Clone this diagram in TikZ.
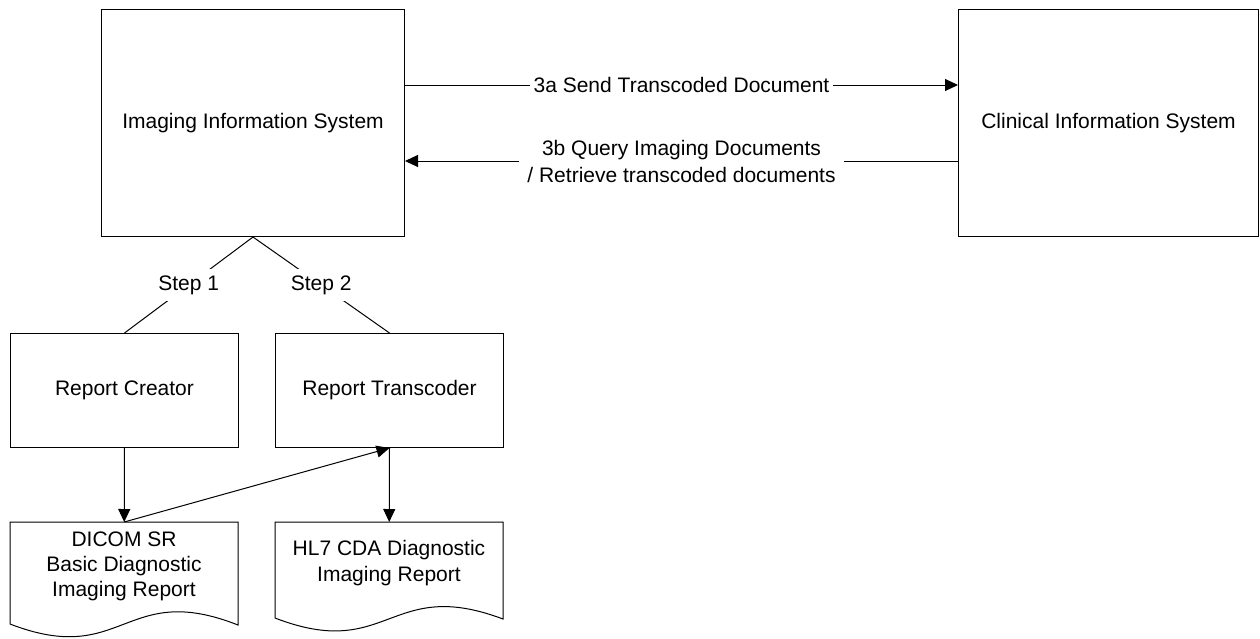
\documentclass[tikz,border=0pt]{standalone}
\usepackage{fontspec}
\setmainfont{Liberation Sans}
\usetikzlibrary{arrows.meta}
\tikzset{
  every node/.style={font=\fontsize{21}{26}\selectfont},
  sysbox/.style={draw=black, line width=1pt, inner sep=0pt, anchor=north west, align=center},
  docarea/.style={inner sep=0pt, anchor=north west},
  doctext/.style={align=center, inner sep=0pt},
  arr/.style={line width=1pt, -{Triangle[length=13pt,width=12pt]}},
  conn/.style={line width=1pt},
  lbl/.style={fill=white, inner xsep=4pt, inner ysep=6pt, align=center},
  docshape/.style={draw=black, line width=1pt}
}
\begin{document}
\begin{tikzpicture}[x=1pt,y=-1pt]
\useasboundingbox (0,0) rectangle (1260,638);
% systems
\node[sysbox, minimum width=303pt, minimum height=227pt] (iis) at (101,9) {Imaging Information System};
\node[sysbox, minimum width=300pt, minimum height=227pt] (cis) at (958,9) {Clinical Information System};
\node[sysbox, minimum width=228pt, minimum height=114pt] (creator) at (10,333) {Report Creator};
\node[sysbox, minimum width=228pt, minimum height=114pt] (transcoder) at (275,333) {Report Transcoder};
% documents
\node[docarea, minimum width=228pt, minimum height=102pt] (dicom) at (10,522) {};
\node[docarea, minimum width=228pt, minimum height=96pt] (hl7) at (275,522) {};
\draw[docshape] (10,624) -- (10,522) -- (238,522) -- (238,625)
  .. controls (124,580) and (124,668) .. (10,624) -- cycle;
\draw[docshape] (275,618) -- (275,522) -- (503,522) -- (503,619)
  .. controls (389,576) and (389,662) .. (275,618) -- cycle;
\node[doctext, font=\fontsize{21}{25}\selectfont] (dicomtxt) at (124,566) {DICOM SR\\Basic Diagnostic\\Imaging Report};
\node[doctext, font=\fontsize{21}{26}\selectfont] (hl7txt) at (389,563) {HL7 CDA Diagnostic\\Imaging Report};
% helper coordinates for horizontal connectors
\coordinate (ya) at (0,85);
\coordinate (yb) at (0,161);
% connectors
\draw[arr] (iis.east |- ya) -- node[lbl, inner ysep=2pt] {3a Send Transcoded Document} (cis.west |- ya);
\draw[arr] (cis.west |- yb) -- node[lbl, inner ysep=2pt, inner xsep=8pt, font=\fontsize{21}{27}\selectfont] {3b Query Imaging Documents\\/ Retrieve transcoded documents} (iis.east |- yb);
\draw[conn] (iis.south) -- node[lbl] {Step 1} (creator.north);
\draw[conn] (iis.south) -- node[lbl] {Step 2} (transcoder.north);
\draw[arr] (creator.south) -- (dicom.north);
\draw[arr] (dicom.north) -- (transcoder.south);
\draw[arr] (transcoder.south) -- (hl7.north);
\end{tikzpicture}
\end{document}
